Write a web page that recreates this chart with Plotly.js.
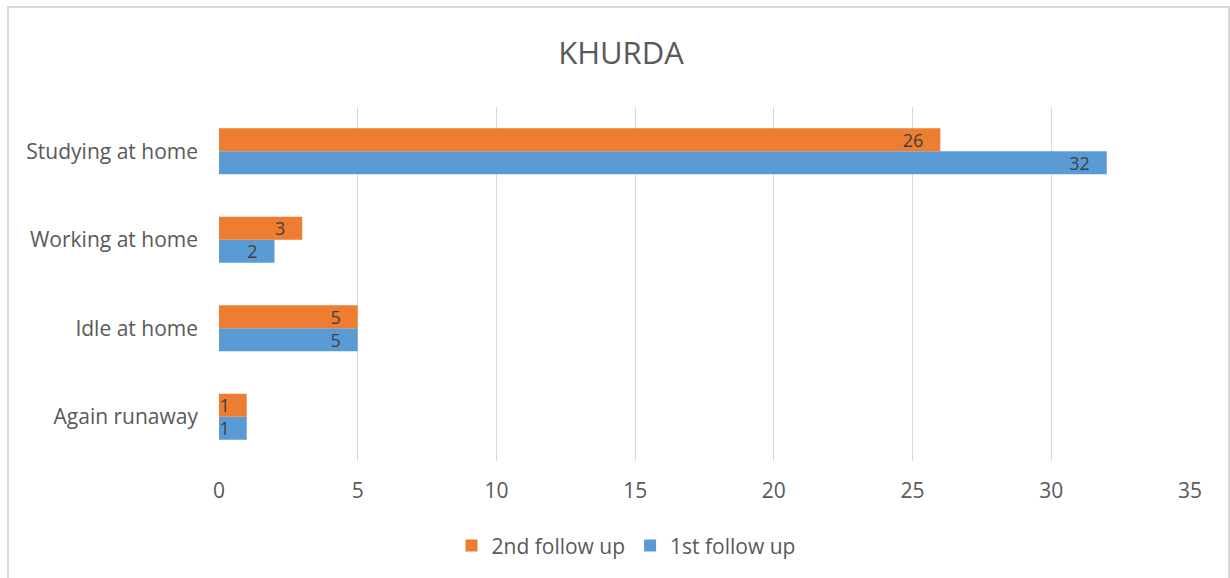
<!DOCTYPE html>
<html>
<head>
<meta charset="utf-8">
<script src="https://cdn.plot.ly/plotly-3.0.1.min.js"></script>
<style>
html,body{margin:0;padding:0;background:#fff;}
#chart{width:1230px;height:578px;}
</style>
</head>
<body>
<div id="chart"></div>
<script>
const categories = ['Again runaway', 'Idle at home', 'Working at home', 'Studying at home'];
const firstFollowUp = [1, 5, 2, 32];
const secondFollowUp = [1, 5, 3, 26];
const seriesNames = ['1st follow up', '2nd follow up'];
const xTicks = [0, 5, 10, 15, 20, 25, 30, 35];
const chartTitle = 'KHURDA';

const FONT = '"Open Sans", "Noto Sans", sans-serif';
const labelFont = {family: FONT, size: 18, color: '#404040'};
const pad = '\u00a0\u00a0\u00a0';

const traces = [
  {
    type: 'bar', orientation: 'h', name: seriesNames[0],
    y: categories, x: firstFollowUp,
    marker: {color: '#5B9BD5'},
    text: firstFollowUp.map(v => String(v) + pad), textposition: 'inside', insidetextanchor: 'end',
    textangle: 0, constraintext: 'none',
    textfont: labelFont, hoverinfo: 'x+y+name'
  },
  {
    type: 'bar', orientation: 'h', name: seriesNames[1],
    y: categories, x: secondFollowUp,
    marker: {color: '#ED7D31'},
    text: secondFollowUp.map(v => String(v) + pad), textposition: 'inside', insidetextanchor: 'end',
    textangle: 0, constraintext: 'none',
    textfont: labelFont, hoverinfo: 'x+y+name'
  }
];

const layout = {
  width: 1230, height: 578,
  margin: {l: 219, r: 40, t: 107, b: 117, pad: 0},
  paper_bgcolor: '#ffffff', plot_bgcolor: '#ffffff',
  font: {family: FONT, color: '#595959', size: 21},
  title: {text: chartTitle, xref: 'paper', x: (621 - 219) / 971, xanchor: 'center', y: 0.908, yanchor: 'middle',
          font: {family: FONT, size: 31, color: '#595959'}},
  barmode: 'group', bargap: 0.48, bargroupgap: 0,
  xaxis: {
    range: [0, 35], tickvals: xTicks, ticktext: xTicks.map(String),
    showgrid: true, gridcolor: '#d9d9d9', gridwidth: 1,
    zeroline: false, showline: false, ticks: '', ticklabelstandoff: 15,
    tickfont: {size: 21, color: '#595959'}, fixedrange: true
  },
  yaxis: {
    type: 'category', categoryorder: 'array', categoryarray: categories,
    showgrid: false, zeroline: false, showline: false, ticks: '',
    ticklabelstandoff: 20,
    tickfont: {size: 21, color: '#595959'}, fixedrange: true
  },
  legend: {
    orientation: 'h', traceorder: 'reversed',
    x: (626 - 219) / 971, xanchor: 'center', y: -0.24, yanchor: 'middle',
    font: {size: 21, color: '#595959'}, itemwidth: 30
  },
  showlegend: true,
  shapes: [{
    type: 'rect', xref: 'paper', yref: 'paper',
    x0: (8 - 219) / 971, x1: (1229 - 219) / 971,
    y0: (461 - 600) / 354, y1: (461 - 7) / 354,
    line: {color: '#d9d9d9', width: 2}, fillcolor: 'rgba(0,0,0,0)', layer: 'below'
  }]
};

Plotly.newPlot('chart', traces, layout, {displayModeBar: false, staticPlot: true});
</script>
</body>
</html>
